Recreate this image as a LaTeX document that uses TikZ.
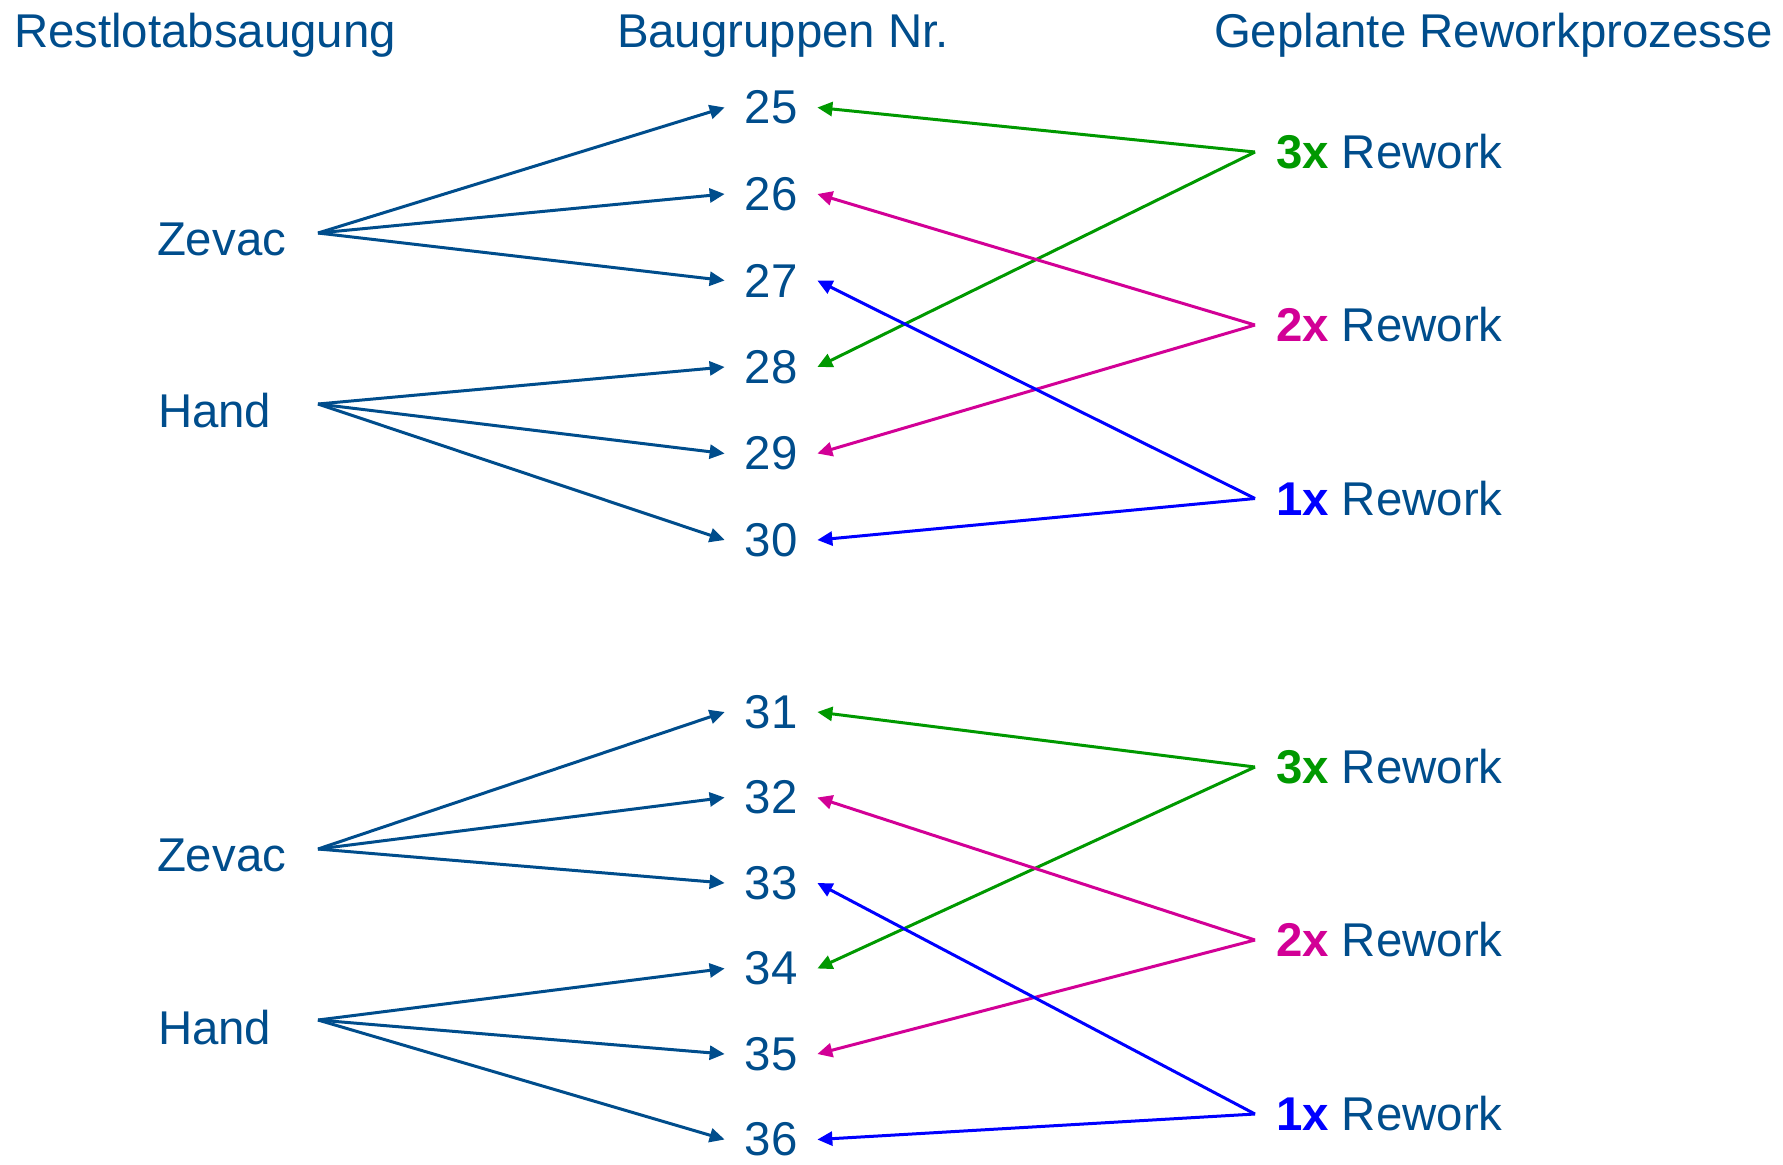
\documentclass[tikz,border=0pt]{standalone}
\usepackage{fontspec}
\setmainfont{Liberation Sans}
\usepackage{tikz}
\usetikzlibrary{arrows.meta}
\definecolor{dunkelblau}{RGB}{0,77,140}
\definecolor{gruen}{RGB}{0,153,0}
\definecolor{magenta}{RGB}{210,0,150}
\definecolor{blau}{RGB}{0,0,255}

\begin{document}
\begin{tikzpicture}[x=0.5pt,y=-0.5pt,
  txt/.style={font=\fontsize{23.7}{28}\selectfont, text=dunkelblau, inner sep=0pt, outer sep=0pt},
  nummer/.style={txt, inner xsep=10pt},
  pfeil/.style={line width=1.5pt, -{Triangle[length=7.5pt,width=7pt]}},
  bauteil/.style={pfeil, draw=dunkelblau, fill=dunkelblau},
  rw/.style={txt, anchor=west, inner xsep=10.5pt}]
\useasboundingbox (0,0) rectangle (1783,1164);
% Spaltenkoepfe
\node[txt, anchor=base west] (kopfA) at (14,47) {Restlotabsaugung};
\node[txt, anchor=base west] (kopfB) at (617,47) {Baugruppen Nr.};
\node[txt, anchor=base west] (kopfC) at (1214,47) {Geplante Reworkprozesse};
% Baugruppen
\node[nummer] (n25) at (771,107.5) {25};
\node[nummer] (n26) at (771,194) {26};
\node[nummer] (n27) at (771,280.5) {27};
\node[nummer] (n28) at (771,367) {28};
\node[nummer] (n29) at (771,453.5) {29};
\node[nummer] (n30) at (771,540) {30};
\node[nummer] (n31) at (771,712) {31};
\node[nummer] (n32) at (771,797.5) {32};
\node[nummer] (n33) at (771,883) {33};
\node[nummer] (n34) at (771,968.5) {34};
\node[nummer] (n35) at (771,1054) {35};
\node[nummer] (n36) at (771,1139.5) {36};
% Restlotabsaugung
\node[txt, anchor=west] (zevacA) at (157,239.5) {Zevac};
\node[txt, anchor=west] (handA) at (158,411) {Hand};
\node[txt, anchor=west] (zevacB) at (157,855) {Zevac};
\node[txt, anchor=west] (handB) at (158,1028) {Hand};
\coordinate (zevacAx) at (318,233);
\coordinate (handAx) at (318,404);
\coordinate (zevacBx) at (318,849);
\coordinate (handBx) at (318,1020);
% Reworkprozesse
\node[rw] (rwA3) at (1255,152) {{\bfseries\color{gruen}3x} Rework};
\node[rw] (rwA2) at (1255,325) {{\bfseries\color{magenta}2x} Rework};
\node[rw] (rwA1) at (1255,498.5) {{\bfseries\color{blau}1x} Rework};
\node[rw] (rwB3) at (1255,767) {{\bfseries\color{gruen}3x} Rework};
\node[rw] (rwB2) at (1255,940) {{\bfseries\color{magenta}2x} Rework};
\node[rw] (rwB1) at (1255,1114) {{\bfseries\color{blau}1x} Rework};

\draw[bauteil] (zevacAx) -- (n25.west);
\draw[bauteil] (zevacAx) -- (n26.west);
\draw[bauteil] (zevacAx) -- (n27.west);
\draw[bauteil] (handAx) -- (n28.west);
\draw[bauteil] (handAx) -- (n29.west);
\draw[bauteil] (handAx) -- (n30.west);
\draw[bauteil] (zevacBx) -- (n31.west);
\draw[bauteil] (zevacBx) -- (n32.west);
\draw[bauteil] (zevacBx) -- (n33.west);
\draw[bauteil] (handBx) -- (n34.west);
\draw[bauteil] (handBx) -- (n35.west);
\draw[bauteil] (handBx) -- (n36.west);

\draw[pfeil, draw=gruen, fill=gruen] (rwA3.west) -- (n25.east);
\draw[pfeil, draw=gruen, fill=gruen] (rwA3.west) -- (n28.east);
\draw[pfeil, draw=magenta, fill=magenta] (rwA2.west) -- (n26.east);
\draw[pfeil, draw=magenta, fill=magenta] (rwA2.west) -- (n29.east);
\draw[pfeil, draw=blau, fill=blau] (rwA1.west) -- (n27.east);
\draw[pfeil, draw=blau, fill=blau] (rwA1.west) -- (n30.east);
\draw[pfeil, draw=gruen, fill=gruen] (rwB3.west) -- (n31.east);
\draw[pfeil, draw=gruen, fill=gruen] (rwB3.west) -- (n34.east);
\draw[pfeil, draw=magenta, fill=magenta] (rwB2.west) -- (n32.east);
\draw[pfeil, draw=magenta, fill=magenta] (rwB2.west) -- (n35.east);
\draw[pfeil, draw=blau, fill=blau] (rwB1.west) -- (n33.east);
\draw[pfeil, draw=blau, fill=blau] (rwB1.west) -- (n36.east);
\end{tikzpicture}
\end{document}
